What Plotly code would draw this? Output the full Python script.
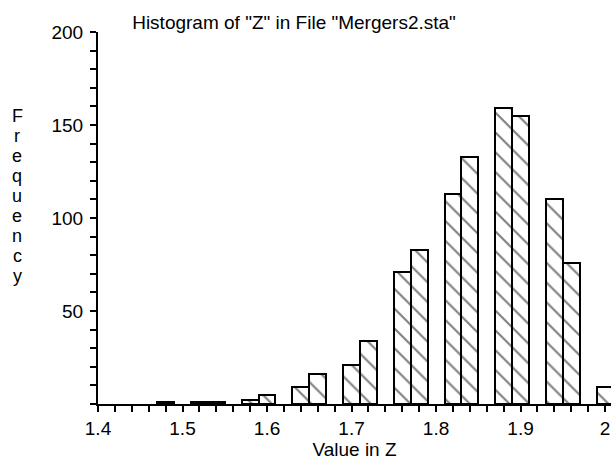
import plotly.graph_objects as go

# Histogram bins (centers, bin width 0.02) and counts
bin_centers = [1.48, 1.52, 1.54, 1.58, 1.60, 1.64, 1.66, 1.70, 1.72,
               1.76, 1.78, 1.82, 1.84, 1.88, 1.90, 1.94, 1.96, 2.00]
counts = [1, 1, 1, 2, 5, 9, 16, 21, 34,
          71, 83, 113, 133, 159, 155, 110, 76, 9]
bin_width = 0.02

x_tick_vals = [1.4, 1.5, 1.6, 1.7, 1.8, 1.9, 2.0]
x_tick_text = ["1.4", "1.5", "1.6", "1.7", "1.8", "1.9", "2"]
y_tick_vals = [50, 100, 150, 200]
y_tick_text = ["50", "100", "150", "200"]

title_text = 'Histogram of "Z" in File "Mergers2.sta"'
x_title = "Value in Z"
y_title = "Frequency"

FONT = "Liberation Sans, Arial, sans-serif"
W, H = 611, 466
ML, MR, MT, MB = 98, 0, 32, 62
PW, PH = W - ML - MR, H - MT - MB

fig = go.Figure()
fig.add_trace(go.Bar(
    x=bin_centers, y=counts, width=[bin_width] * len(bin_centers),
    marker=dict(color="white",
                line=dict(color="black", width=2),
                pattern=dict(shape="\\", fgcolor="black", bgcolor="white",
                             size=14, solidity=0.15)),
    showlegend=False,
))

x_minor = [round(1.4 + 0.02 * i, 2) for i in range(31)]
y_minor = [10 * i for i in range(21)]

fig.update_layout(
    width=W, height=H,
    paper_bgcolor="white", plot_bgcolor="white",
    margin=dict(l=ML, r=MR, t=MT, b=MB, autoexpand=False),
    font=dict(family=FONT, size=19, color="black"),
    title=dict(text=title_text, x=294 / W, xanchor="center",
               y=1 - 22 / H, yanchor="middle",
               font=dict(family=FONT, size=19, color="black")),
    bargap=0,
    xaxis=dict(range=[1.4, 2.007], showgrid=False, zeroline=False,
               showline=True, linecolor="black", linewidth=2,
               tickmode="array", tickvals=x_tick_vals, ticktext=x_tick_text,
               ticks="outside", ticklen=6, tickwidth=2, tickcolor="black",
               minor=dict(tickmode="array", tickvals=x_minor, ticks="outside",
                          ticklen=6, tickwidth=2, tickcolor="black"),
               tickfont=dict(size=19), automargin=False,
               title=dict(text=x_title, font=dict(size=19), standoff=0)),
    yaxis=dict(range=[0, 200], showgrid=False, zeroline=False,
               showline=True, linecolor="black", linewidth=2,
               tickmode="array", tickvals=y_tick_vals, ticktext=y_tick_text,
               ticks="outside", ticklen=6, tickwidth=2, tickcolor="black",
               minor=dict(tickmode="array", tickvals=y_minor, ticks="outside",
                          ticklen=6, tickwidth=2, tickcolor="black"),
               tickfont=dict(size=19), ticklabelstandoff=3, automargin=False),
)

# stacked vertical axis title, one letter per line
for i, ch in enumerate(y_title):
    ypix = 116 + 20 * i
    fig.add_annotation(
        text=ch, xref="paper", yref="paper",
        x=-(ML - 17) / PW, y=1 - (ypix - MT) / PH,
        xanchor="center", yanchor="middle", showarrow=False,
        font=dict(family=FONT, size=18, color="black"),
    )

fig.write_html("out.html", config={"displayModeBar": False},
               post_script="document.body.style.margin='0';")
